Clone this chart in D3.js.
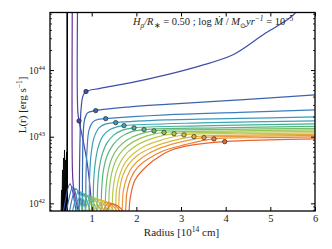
<!DOCTYPE html>
<html><head><meta charset="utf-8">
<script src="https://cdn.jsdelivr.net/npm/d3@7"></script>
<style>body{margin:0;background:#fff}svg{display:block}</style>
</head><body><svg id="c" width="332" height="249"></svg>
<script>
// ---- data (radius in 1e14 cm, log10 L in erg/s) ----
const xTicks = [1, 2, 3, 4, 5, 6];
const yTickExps = [42, 43, 44];
const xDomain = [0.066, 6];
const logLDomain = [41.893, 44.871];

const lineColors = ["#000000","#6b2d96","#4f46ab","#3d4ea6","#3a64b0","#3b7fbd","#3a98c0","#3aa8b0",
  "#45b096","#5ab57e","#78bd68","#97c55a","#b4c94f","#cfc447","#e0b040","#e89a38","#ec8030","#e8622a"];

const blackSpikes = [[0.313,41.85],[0.324,42.209],[0.335,41.984],[0.346,42.509],[0.357,42.059],[0.369,42.689],
  [0.380,42.134],[0.391,42.809],[0.402,42.284],[0.413,42.659],[0.424,42.359],[0.436,42.779],[0.447,41.85]];

const curve00 = [[0.451,41.6],[0.451,45.2]];
const curve01 = [[0.566,45.2],[0.566,42.569],[0.581,42.329],[0.615,42.134],[0.660,41.999],[0.716,41.848]];
const curve02 = [[0.686,45.2],[0.689,43.380],[0.716,43.245],[0.805,42.960],[0.895,42.629],[0.962,42.254],[1.006,41.893],[1.029,41.75]];
const curve03 = [[0.357,41.848],[0.514,42.299],[0.648,41.893],[0.682,41.68],[0.716,41.893],[0.727,42.509],[0.738,42.960],
  [0.760,43.410],[0.805,43.620],[0.872,43.685],[1.186,43.733],[1.857,43.815],[2.663,43.935],[3.425,44.071],[4.164,44.236],
  [4.902,44.566],[5.440,44.791],[5.664,44.941]];
const curve04 = [[0.424,41.848],[0.581,42.254],[0.716,41.893],[0.749,41.68],[0.783,41.893],[0.794,42.509],[0.805,42.960],
  [0.839,43.260],[0.906,43.365],[1.089,43.399],[1.857,43.455],[2.663,43.493],[4.320,43.560],[6.000,43.635]];
const curve05 = [[0.492,41.848],[0.648,42.224],[0.805,41.893],[0.832,41.68],[0.861,41.893],[0.872,42.434],[0.895,42.809],
  [0.940,43.110],[1.029,43.230],[1.141,43.267],[1.313,43.279],[2.663,43.335],[4.320,43.372],[6.000,43.410]];
const curve06 = [[0.559,41.848],[0.716,42.194],[0.872,41.893],[0.906,41.68],[0.940,41.893],[0.951,42.359],[0.984,42.734],
  [1.051,42.990],[1.163,43.140],[1.320,43.200],[1.537,43.219],[2.663,43.260],[4.320,43.282],[6.000,43.305]];
const curve07 = [[0.626,41.848],[0.783,42.164],[0.962,41.893],[0.995,41.68],[1.029,41.893],[1.040,42.284],[1.074,42.584],
  [1.141,42.839],[1.253,43.020],[1.410,43.117],[1.566,43.155],[1.723,43.174],[3.425,43.215],[6.000,43.245]];
const curve08 = [[0.693,41.848],[0.850,42.149],[1.051,41.893],[1.085,41.68],[1.118,41.893],[1.130,42.209],[1.163,42.509],
  [1.231,42.734],[1.343,42.915],[1.499,43.035],[1.678,43.102],[1.947,43.140],[3.425,43.170],[6.000,43.200]];
const curve09 = [[0.760,41.848],[0.917,42.119],[1.118,41.893],[1.163,41.68],[1.208,41.893],[1.222,42.209],[1.264,42.509],
  [1.343,42.719],[1.477,42.884],[1.656,43.005],[1.880,43.080],[2.171,43.114],[3.872,43.140],[6.000,43.162]];
const curve10 = [[0.827,41.848],[0.984,42.104],[1.208,41.893],[1.253,41.68],[1.298,41.893],[1.316,42.209],[1.365,42.479],
  [1.454,42.689],[1.589,42.839],[1.790,42.960],[2.059,43.042],[2.395,43.095],[4.097,43.117],[6.000,43.132]];
const curve11 = [[0.895,41.848],[1.051,42.089],[1.275,41.893],[1.327,41.68],[1.376,41.893],[1.394,42.209],[1.454,42.479],
  [1.544,42.659],[1.701,42.809],[1.925,42.930],[2.238,43.020],[2.619,43.072],[4.320,43.095],[6.000,43.110]];
const curve12 = [[0.962,41.848],[1.118,42.074],[1.365,41.893],[1.410,41.68],[1.454,41.893],[1.477,42.209],[1.544,42.464],
  [1.656,42.644],[1.813,42.779],[2.059,42.900],[2.395,42.990],[2.843,43.053],[4.544,43.075],[6.000,43.087]];
const curve13 = [[1.029,41.848],[1.186,42.059],[1.432,41.893],[1.484,41.68],[1.533,41.893],[1.555,42.209],[1.634,42.449],
  [1.746,42.614],[1.925,42.749],[2.193,42.869],[2.574,42.960],[3.066,43.035],[4.544,43.053],[6.000,43.065]];
const curve14 = [[1.096,41.848],[1.253,42.044],[1.499,41.893],[1.551,41.68],[1.600,41.893],[1.625,42.209],[1.701,42.434],
  [1.835,42.599],[2.036,42.734],[2.328,42.839],[2.753,42.937],[3.290,43.009],[4.768,43.035],[6.000,43.042]];
const curve15 = [[1.163,41.848],[1.320,42.029],[1.566,41.893],[1.622,41.68],[1.678,41.893],[1.705,42.179],[1.790,42.404],
  [1.925,42.569],[2.148,42.704],[2.462,42.817],[2.910,42.915],[3.514,42.994],[4.768,43.015],[6.000,43.027]];
const curve16 = [[1.231,41.848],[1.387,42.014],[1.634,41.893],[1.696,41.68],[1.757,41.893],[1.786,42.164],[1.880,42.389],
  [2.036,42.554],[2.260,42.674],[2.596,42.794],[3.066,42.884],[3.738,42.975],[4.992,42.993],[6.000,43.005]];
const curve17 = [[1.298,41.848],[1.454,41.999],[1.701,41.893],[1.768,41.68],[1.835,41.893],[1.857,42.059],[1.969,42.359],
  [2.260,42.584],[2.567,42.734],[2.791,42.809],[3.201,42.877],[3.978,42.934],[4.992,42.960],[6.000,42.975]];

const markerLine = [2,3,4,5,6,7,8,9,10,11,12,13,14,15,16,17];
const markerR    = [0.716,0.872,1.089,1.313,1.537,1.723,1.947,2.171,2.395,2.619,2.843,3.066,3.290,3.514,3.738,3.978];
const markerLogL = [43.245,43.685,43.399,43.279,43.219,43.174,43.140,43.114,43.095,43.072,43.053,43.035,43.009,42.994,42.975,42.934];

const curves = [curve00,curve01,curve02,curve03,curve04,curve05,curve06,curve07,curve08,curve09,
  curve10,curve11,curve12,curve13,curve14,curve15,curve16,curve17];

// ---- layout ----
const L = 50, R = 315, T = 12.5, B = 211;
const serif = "'Liberation Serif','Times New Roman',serif";
const svg = d3.select("#c");
const x = d3.scaleLinear().domain(xDomain).range([L, R]);
const y = d3.scaleLog().domain([10 ** logLDomain[0], 10 ** logLDomain[1]]).range([B, T]);

svg.append("defs").append("clipPath").attr("id","clip")
  .append("rect").attr("x",L).attr("y",T).attr("width",R-L).attr("height",B-T);

const plot = svg.append("g").attr("clip-path","url(#clip)");
const line = d3.line().x(d => x(d[0])).y(d => y(10 ** d[1])).curve(d3.curveCatmullRom.alpha(0.5));

plot.append("path").datum(blackSpikes)
  .attr("d", d3.line().x(d => x(d[0])).y(d => y(10 ** d[1])))
  .attr("fill","#000").attr("stroke","#000").attr("stroke-width",0.8);

curves.forEach((c, i) => {
  plot.append("path").datum(c).attr("d", line)
    .attr("fill","none").attr("stroke", lineColors[i])
    .attr("stroke-width", i === 0 ? 1.6 : 1.2).attr("stroke-linejoin","round");
});

plot.selectAll("circle.m").data(markerLine).join("circle").attr("class","m")
  .attr("cx", (d, i) => x(markerR[i])).attr("cy", (d, i) => y(10 ** markerLogL[i]))
  .attr("r", 2.2).attr("fill", d => lineColors[d]).attr("stroke","#2a2a2a").attr("stroke-width",0.7);

// ---- axes ----
const axB = svg.append("g").attr("transform",`translate(0,${B})`)
  .call(d3.axisBottom(x).tickValues(xTicks).tickSize(-4).tickPadding(4).tickFormat(d3.format("d")));
const axT = svg.append("g").attr("transform",`translate(0,${T})`)
  .call(d3.axisTop(x).tickValues(xTicks).tickSize(-4).tickFormat(""));
[axB, axT].forEach(a => { a.select(".domain").remove(); a.selectAll("line").attr("stroke","#000"); });
axB.selectAll("text").attr("font-family", serif).attr("font-size", 10.5).attr("fill","#222");

const minor = [];
for (let e = 41; e <= 44; e++) for (let m = 2; m <= 9; m++) {
  const v = m * 10 ** e;
  if (v > 10 ** logLDomain[0] && v < 10 ** logLDomain[1]) minor.push(v);
}
const major = yTickExps.map(e => 10 ** e);
[[L, 1], [R, -1]].forEach(([x0, dir]) => {
  const g = svg.append("g");
  g.selectAll("line.maj").data(major).join("line")
    .attr("x1", x0).attr("x2", x0 + dir * 4).attr("y1", d => y(d)).attr("y2", d => y(d)).attr("stroke","#000");
  g.selectAll("line.min").data(minor).join("line")
    .attr("x1", x0).attr("x2", x0 + dir * 2).attr("y1", d => y(d)).attr("y2", d => y(d)).attr("stroke","#000").attr("stroke-width",0.8);
});

const yl = svg.append("g");
yTickExps.forEach(e => {
  const t = yl.append("text").attr("x", 45).attr("y", y(10 ** e) + 3).attr("text-anchor","end")
    .attr("font-family", serif).attr("font-size", 9.5).attr("fill","#222");
  t.append("tspan").text("10");
  t.append("tspan").attr("dy", -4).attr("font-size", 6.5).text(String(e));
});

svg.append("rect").attr("x",L).attr("y",T).attr("width",R-L).attr("height",B-T)
  .attr("fill","none").attr("stroke","#000").attr("stroke-width",1.3);

// axis labels
const xl = svg.append("text").attr("x", 181.5).attr("y", 236).attr("text-anchor","middle")
  .attr("font-family", serif).attr("font-size", 11).attr("fill","#222");
xl.append("tspan").text("Radius [10");
xl.append("tspan").attr("dy", -4).attr("font-size", 7.5).text("14");
xl.append("tspan").attr("dy", 4).text(" cm]");

const ylab = svg.append("text").attr("transform","translate(26,105) rotate(-90)").attr("text-anchor","middle")
  .attr("font-family", serif).attr("font-size", 11).attr("fill","#222");
ylab.append("tspan").text("L(r) [erg s");
ylab.append("tspan").attr("dy", -4).attr("font-size", 7.5).text("−1");
ylab.append("tspan").attr("dy", 4).text("]");

// annotation
const ann = svg.append("text").attr("x", 133).attr("y", 25)
  .attr("font-family", serif).attr("font-size", 10.5).attr("fill","#222");
const parts = [
  ["H", "italic", 0, 10.5], ["ρ", "italic", 3, 7.5], ["/R", "italic", -3, 10.5], ["∗", "normal", 3, 7.5],
  [" = 0.50 ; log ", "normal", -3, 10.5], ["Ṁ", "italic", 0, 10.5], [" / ", "normal", 0, 10.5],
  ["M", "italic", 0, 10.5], ["⊙", "normal", 3, 7], ["yr", "italic", -3, 10.5], ["−1", "italic", -4, 7.5],
  [" = 10", "normal", 4, 10.5], ["−5", "normal", -4, 7.5]
];
parts.forEach(([s, st, dy, fs]) => {
  ann.append("tspan").attr("dy", dy).attr("font-style", st).attr("font-size", fs).text(s);
});
</script>
</body></html>
